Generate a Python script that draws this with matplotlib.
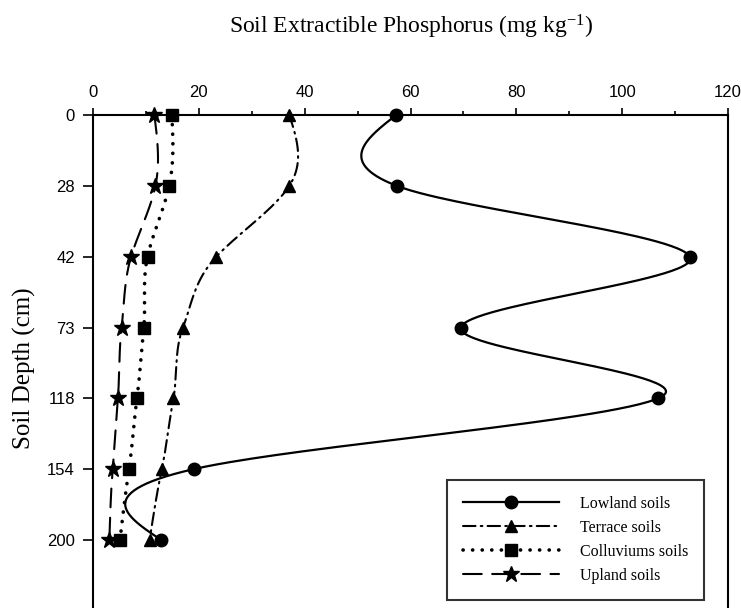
import numpy as np
import matplotlib
matplotlib.use('Agg')
import matplotlib.pyplot as plt
from matplotlib.lines import Line2D

plt.rcParams['mathtext.fontset'] = 'custom'
plt.rcParams['mathtext.rm'] = 'Liberation Serif'
plt.rcParams['mathtext.it'] = 'Liberation Serif:italic'

# Depth classes (cm) and extractable P (mg/kg) for each landscape position
depths = ['0', '28', '42', '73', '118', '154', '200']
lowland = [57.3, 57.4, 112.8, 69.5, 106.8, 19.0, 12.9]
terrace = [37.1, 37.1, 23.3, 17.0, 15.2, 13.0, 10.7]
colluvium = [14.9, 14.4, 10.3, 9.6, 8.3, 6.8, 5.1]
upland = [11.6, 11.8, 7.2, 5.4, 4.7, 3.7, 3.1]
series_names = ['Lowland soils', 'Terrace soils', 'Colluviums soils', 'Upland soils']


def smooth_curve(y, tension=1.25, nseg=60):
    """Cubic Hermite curve through y (uniform spacing), Catmull-Rom style
    tangents and free (zero curvature) ends."""
    y = np.asarray(y, float)
    n = len(y)
    m = np.zeros(n)
    m[1:-1] = tension * (y[2:] - y[:-2]) / 2
    m[0] = (3 * (y[1] - y[0]) - m[1]) / 2
    m[-1] = (3 * (y[-1] - y[-2]) - m[-2]) / 2
    t = np.linspace(0, 1, nseg, endpoint=False)
    h00 = 2 * t**3 - 3 * t**2 + 1
    h10 = t**3 - 2 * t**2 + t
    h01 = -2 * t**3 + 3 * t**2
    h11 = t**3 - t**2
    xs, ts = [], []
    for i in range(n - 1):
        xs.append(h00 * y[i] + h10 * m[i] + h01 * y[i + 1] + h11 * m[i + 1])
        ts.append(i + t)
    xs.append([y[-1]]); ts.append([n - 1])
    return np.concatenate(xs), np.concatenate(ts)


fig = plt.figure(figsize=(7.41, 6.08), dpi=100)
ax = fig.add_axes([93 / 741, 0.0, (728 - 93) / 741, 1 - 115 / 608])

pos = np.arange(len(depths))

styles = [
    dict(ls='-', lw=1.6, marker='o', ms=9),
    dict(ls=(0, (6, 2.5, 0.8, 2.5)), lw=1.5, marker='^', ms=9),
    dict(ls=(0, (0.05, 2.6)), lw=2.6, marker='s', ms=8.5),
    dict(ls=(0, (9, 5)), lw=1.5, marker='*', ms=12),
]

handles = []
for vals, st, name in zip([lowland, terrace, colluvium, upland], styles, series_names):
    cx, cy = smooth_curve(vals)
    ax.plot(cx, cy, color='black', linestyle=st['ls'], lw=st['lw'],
            dash_capstyle='round', solid_capstyle='round', clip_on=False)
    ax.plot(vals, pos, linestyle='none', marker=st['marker'], ms=st['ms'],
            color='black', clip_on=False, zorder=3)
    handles.append(Line2D([], [], color='black', linestyle=st['ls'], lw=st['lw'],
                          dash_capstyle='round', marker=st['marker'], ms=st['ms']))

ax.set_xlim(0, 120)
ax.set_ylim(6.96, 0)
ax.xaxis.tick_top()
ax.set_xticks(np.arange(0, 121, 20))
ax.set_xticks(np.arange(10, 120, 20), minor=True)
ax.set_yticks(pos)
ax.set_yticklabels(depths)
ax.tick_params(axis='both', which='major', direction='out', length=5, width=1.2,
               labelsize=12, pad=6)
ax.tick_params(axis='x', which='minor', direction='out', length=3, width=1.2)
ax.tick_params(axis='y', which='major', length=7)
ax.tick_params(axis='x', which='major', pad=6)
for lab in ax.get_xticklabels() + ax.get_yticklabels():
    lab.set_family('Liberation Sans')
for side in ['top', 'left', 'right']:
    ax.spines[side].set_linewidth(1.5)
ax.spines['bottom'].set_visible(False)

ax.set_ylabel('Soil Depth (cm)', family='Liberation Serif', fontsize=18)
ax.yaxis.set_label_coords(-0.09, 0.487)
fig.text(411 / 741, 1 - 27 / 608, 'Soil Extractible Phosphorus (mg kg$^{-1}$)',
         ha='center', va='center', fontsize=17, family='Liberation Serif')

leg = ax.legend(handles, series_names, loc='upper left',
                bbox_to_anchor=(447 / 741, 1 - 480 / 608), bbox_transform=fig.transFigure,
                borderaxespad=0, frameon=True, fancybox=False, edgecolor='black',
                prop={'family': 'Liberation Serif', 'size': 11.5}, handlelength=6.0,
                handletextpad=1.3, labelspacing=0.5, borderpad=1.0)
leg.get_frame().set_linewidth(1.5)

fig.savefig('out.png', dpi=100)
